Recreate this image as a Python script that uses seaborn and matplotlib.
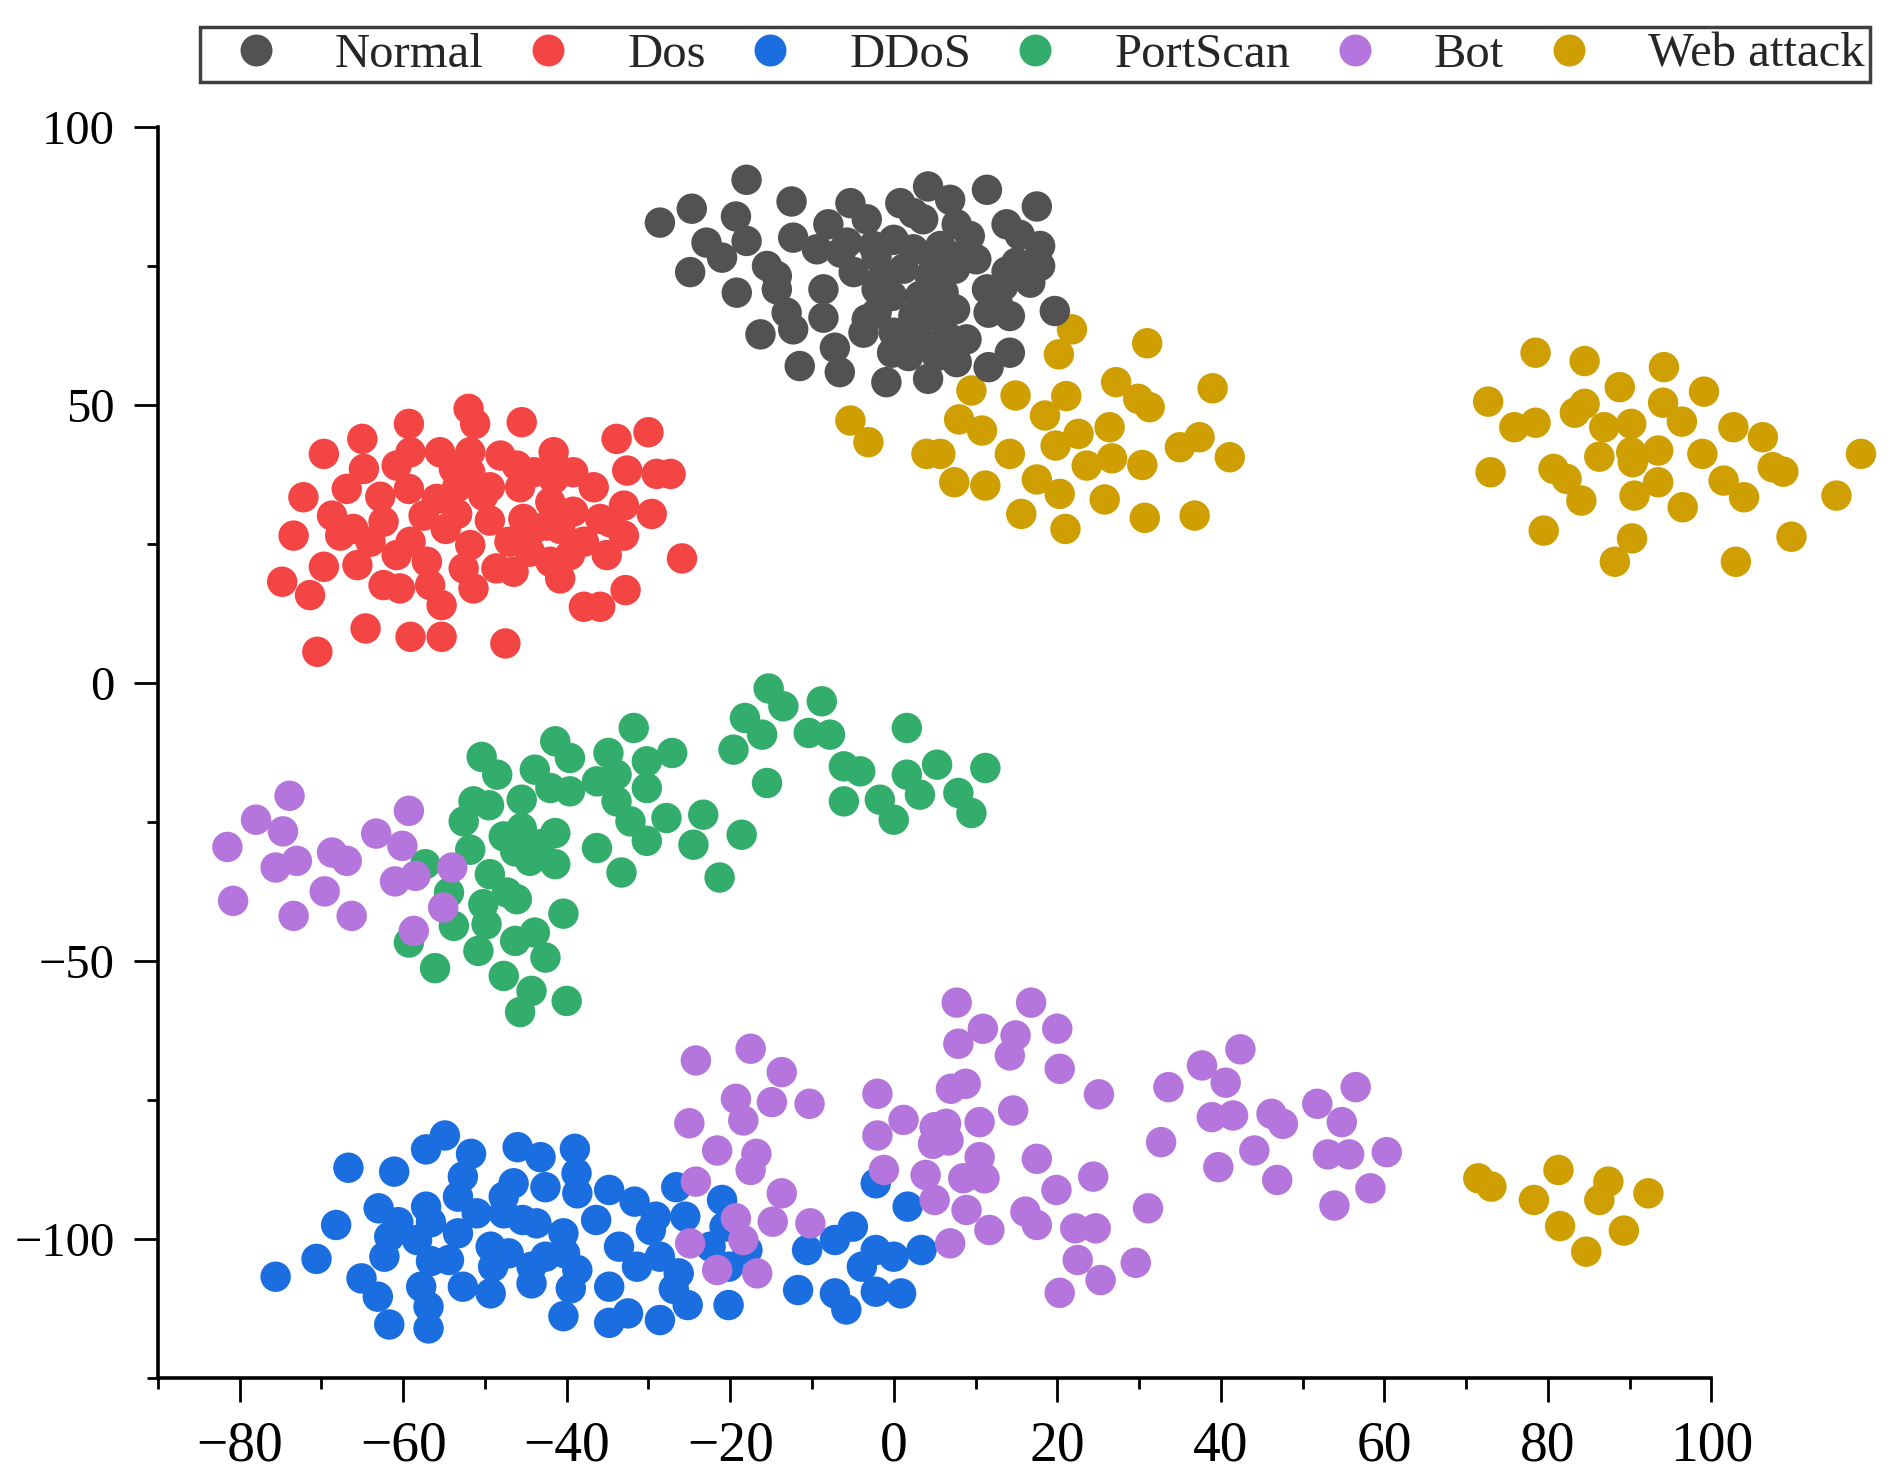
import matplotlib
matplotlib.use("Agg")
import matplotlib.pyplot as plt
from matplotlib.ticker import MultipleLocator
import pandas as pd
import seaborn as sns

categories = ["Normal", "Dos", "DDoS", "PortScan", "Bot", "Web attack"]
colors = ["#525252", "#F44545", "#1A6EDF", "#33AD6B", "#B476DC", "#CF9E00"]

normal_xy = [
    (-18.0, 90.5), (-28.6, 82.8), (-24.7, 85.3), (-19.3, 83.9), (-18.0, 79.5), (-22.9, 79.2), (-21.0, 76.5), (-24.9, 73.9),
    (-19.2, 70.2), (-12.5, 86.6), (-12.3, 80.1), (-15.5, 75.0), (-14.3, 73.2), (-14.3, 70.8), (-13.1, 66.6), (-12.3, 63.6),
    (-16.3, 62.7), (-11.5, 57.0), (-8.6, 70.8), (-8.6, 65.7), (-7.2, 60.3), (-6.6, 55.9), (-8.0, 82.5), (-5.3, 86.3),
    (-9.4, 78.0), (-5.7, 79.2), (-3.3, 83.4), (-4.9, 73.9), (-2.1, 76.8), (-3.3, 65.4), (-2.1, 70.8), (0.8, 86.3),
    (0.0, 79.7), (1.2, 74.5), (-0.2, 69.6), (0.0, 63.0), (-0.2, 59.4), (-0.9, 54.1), (4.2, 89.3), (6.9, 86.9),
    (3.6, 83.4), (2.4, 78.0), (5.7, 78.6), (7.7, 82.5), (9.3, 80.4), (4.4, 73.2), (7.5, 74.5), (3.2, 69.6),
    (6.1, 70.2), (2.4, 66.0), (5.3, 66.0), (7.5, 67.2), (3.2, 61.8), (6.5, 62.4), (8.9, 61.8), (7.7, 57.7),
    (4.2, 54.7), (10.1, 76.2), (11.4, 70.8), (11.6, 66.6), (11.4, 88.7), (13.8, 82.5), (15.4, 80.6), (17.5, 85.7),
    (17.9, 78.6), (17.9, 75.0), (15.0, 75.6), (16.7, 72.0), (13.4, 71.4), (14.2, 66.0), (12.7, 68.4), (19.7, 66.9),
    (14.2, 59.4), (11.6, 56.8), (-2.1, 66.6), (-3.7, 63.0), (1.8, 58.8), (5.3, 58.8), (2.4, 84.5), (-2.5, 78.6),
    (-6.5, 77.4), (4.8, 76.2), (8.5, 77.0), (13.8, 74.0), (-1.3, 73.2),
]

dos_xy = [
    (-70.5, 5.6), (-64.6, 9.8), (-59.1, 8.3), (-55.3, 8.3), (-47.5, 7.1), (-74.8, 18.2), (-71.4, 15.8), (-69.7, 20.9),
    (-73.4, 26.5), (-72.2, 33.4), (-69.7, 41.2), (-66.9, 34.9), (-68.7, 30.1), (-67.7, 26.5), (-65.0, 43.9), (-64.8, 38.5),
    (-65.6, 21.2), (-62.8, 33.5), (-62.4, 29.0), (-64.0, 25.4), (-62.4, 17.6), (-60.4, 17.0), (-60.8, 39.1), (-59.3, 46.6),
    (-59.1, 41.5), (-59.3, 34.9), (-59.1, 25.4), (-57.1, 21.8), (-55.5, 41.5), (-55.9, 33.1), (-54.8, 27.7), (-55.3, 14.0),
    (-56.7, 17.6), (-53.4, 35.2), (-53.4, 30.4), (-52.0, 49.3), (-51.2, 46.6), (-51.8, 41.5), (-51.8, 37.9), (-51.8, 24.8),
    (-51.4, 17.0), (-49.4, 29.2), (-48.1, 40.9), (-48.6, 20.6), (-46.5, 20.0), (-45.5, 46.9), (-46.1, 39.1), (-45.7, 35.2),
    (-45.3, 29.5), (-44.5, 23.6), (-44.0, 37.9), (-41.6, 41.5), (-42.0, 32.5), (-40.8, 18.8), (-39.2, 37.9), (-40.8, 27.7),
    (-37.9, 25.4), (-36.7, 35.2), (-35.9, 29.5), (-35.1, 23.0), (-37.9, 13.7), (-35.9, 13.7), (-33.0, 31.9), (-33.0, 26.5),
    (-33.9, 43.9), (-32.6, 38.2), (-32.8, 16.7), (-30.0, 45.1), (-29.0, 37.6), (-27.3, 37.6), (-29.6, 30.4), (-25.9, 22.4),
    (-42.0, 21.8), (-39.6, 23.0), (-47.0, 25.4), (-50.2, 33.7), (-57.5, 30.1), (-60.8, 23.0), (-66.1, 27.7), (-42.4, 28.3),
    (-34.7, 28.9), (-39.2, 30.8), (-44.0, 27.7), (-52.6, 20.6), (-49.4, 35.2), (-53.8, 38.5), (-41.6, 36.7),
]

ddos_xy = [
    (-75.6, -106.8), (-70.6, -103.6), (-68.2, -97.5), (-66.7, -87.2), (-63.0, -94.5), (-61.1, -87.9), (-65.1, -107.1),
    (-63.1, -110.4), (-61.7, -115.4), (-61.7, -99.6), (-62.3, -103.2), (-57.2, -83.9), (-54.9, -81.4), (-57.2, -94.2),
    (-58.3, -100.2), (-57.8, -108.6), (-56.9, -116.1), (-56.9, -112.2), (-54.4, -103.8), (-53.3, -99.0), (-53.3, -92.4),
    (-51.7, -84.7), (-52.7, -88.8), (-51.0, -95.4), (-52.7, -108.6), (-49.3, -109.8), (-49.3, -101.4), (-47.7, -92.4),
    (-46.5, -90.0), (-47.1, -102.6), (-46.0, -83.5), (-43.2, -85.3), (-42.6, -90.7), (-43.7, -97.2), (-44.3, -108.0),
    (-42.6, -103.2), (-39.0, -83.8), (-38.8, -88.2), (-38.7, -91.8), (-40.4, -99.0), (-40.2, -102.6), (-39.5, -108.9),
    (-40.4, -113.9), (-36.4, -96.6), (-34.8, -91.2), (-34.8, -108.6), (-34.8, -115.1), (-33.6, -101.4), (-31.7, -93.3),
    (-32.5, -113.4), (-31.4, -105.0), (-29.1, -96.0), (-28.6, -114.6), (-28.6, -103.2), (-26.6, -90.7), (-25.5, -96.0),
    (-25.2, -111.9), (-26.3, -106.2), (-21.0, -93.0), (-20.7, -97.8), (-17.9, -102.0), (-20.2, -105.0), (-20.2, -111.9),
    (-2.2, -90.0), (1.7, -94.2), (-5.0, -97.8), (-7.2, -100.2), (-10.6, -102.0), (-2.2, -102.0), (0.0, -103.2),
    (3.4, -102.0), (-3.9, -105.0), (-11.7, -109.2), (-7.2, -109.8), (-2.2, -109.5), (0.9, -109.8), (-5.8, -112.7),
    (-49.0, -105.0), (-56.6, -97.0), (-60.6, -97.0), (-45.4, -96.6), (-29.7, -98.4), (-22.4, -101.4), (-38.7, -105.6),
    (-44.3, -105.0), (-26.9, -109.0), (-47.7, -95.4), (-56.6, -104.0),
]

portscan_xy = [
    (-50.4, -13.3), (-48.5, -16.5), (-41.4, -10.5), (-39.6, -13.5), (-43.9, -15.6), (-31.8, -8.1), (-34.9, -12.6),
    (-27.1, -12.6), (-30.2, -14.1), (-42.0, -18.9), (-39.6, -19.5), (-36.3, -17.7), (-33.9, -16.5), (-45.5, -21.0),
    (-51.4, -21.3), (-49.5, -22.0), (-52.6, -24.9), (-33.9, -21.3), (-30.2, -18.9), (-27.8, -24.3), (-32.2, -24.9),
    (-30.2, -28.4), (-23.3, -23.7), (-24.5, -29.1), (-36.3, -29.7), (-33.3, -34.1), (-47.7, -27.6), (-45.5, -26.1),
    (-41.4, -27.0), (-44.5, -32.0), (-41.4, -32.6), (-46.3, -30.3), (-51.8, -30.0), (-57.3, -32.6), (-54.4, -37.7),
    (-49.4, -34.4), (-46.1, -38.9), (-50.2, -39.8), (-40.4, -41.5), (-53.8, -43.7), (-49.8, -43.4), (-43.9, -44.9),
    (-46.3, -46.4), (-50.8, -48.2), (-59.3, -46.7), (-42.6, -49.4), (-56.1, -51.3), (-47.7, -52.7), (-44.3, -55.4),
    (-45.7, -59.2), (-40.0, -57.2), (-21.3, -35.0), (-47.3, -37.7), (-43.2, -29.0),
    (-15.3, -1.0), (-13.5, -4.2), (-18.2, -6.3), (-16.1, -9.3), (-19.6, -12.0), (-15.5, -18.0), (-8.8, -3.3),
    (-10.4, -9.0), (-7.8, -9.3), (-6.1, -15.0), (-4.1, -15.9), (-6.1, -21.3), (-1.7, -21.0), (0.0, -24.6),
    (1.6, -8.1), (1.6, -16.5), (3.2, -20.1), (5.3, -14.7), (7.9, -19.8), (9.5, -23.4), (11.2, -15.3), (-18.6, -27.3),
]

bot_xy = [
    (-81.5, -29.5), (-78.0, -24.6), (-73.9, -20.3), (-74.7, -26.7), (-75.6, -33.2), (-73.0, -32.0), (-80.8, -39.2),
    (-73.4, -41.9), (-69.6, -37.5), (-68.7, -30.5), (-66.9, -32.0), (-66.3, -41.9), (-63.3, -27.1), (-59.3, -23.0),
    (-60.1, -29.3), (-61.0, -35.7), (-58.5, -34.7), (-54.0, -33.2), (-55.1, -40.4), (-58.7, -44.6),
    (-24.2, -67.9), (-17.5, -65.8), (-13.7, -70.0), (-19.3, -74.8), (-18.4, -78.7), (-14.9, -75.4), (-10.3, -75.7),
    (-25.0, -79.2), (-21.6, -84.1), (-16.8, -84.7), (-17.5, -87.6), (-24.2, -89.7), (-13.7, -91.8), (-19.3, -96.3),
    (-14.8, -96.9), (-10.2, -97.2), (-24.9, -100.8), (-18.4, -100.2), (-21.6, -105.6), (-16.7, -106.2),
    (-2.0, -73.9), (-2.0, -81.4), (1.2, -78.6), (-1.2, -87.6), (5.0, -79.9), (4.8, -82.9), (6.7, -82.3), (7.0, -73.0),
    (8.8, -72.1), (7.7, -57.5), (10.9, -62.2), (7.9, -64.9), (14.9, -63.4), (14.2, -67.0), (16.8, -57.5), (20.0, -62.2),
    (20.3, -69.4), (25.1, -74.0), (14.6, -76.9), (10.5, -79.0), (3.9, -88.5), (8.5, -89.1), (11.1, -89.1), (10.5, -85.3),
    (5.0, -93.0), (8.9, -94.8), (6.9, -100.8), (11.7, -98.4), (16.1, -95.1), (17.5, -97.5), (17.5, -85.6), (19.9, -91.2),
    (24.4, -88.8), (22.2, -98.1), (24.7, -98.1), (22.5, -103.8), (25.3, -107.4), (20.3, -109.7), (29.6, -104.3),
    (31.1, -94.5), (32.7, -82.6), (33.6, -72.7), (37.7, -68.8), (42.4, -65.9), (40.6, -71.9), (38.9, -78.1),
    (41.5, -77.8), (44.1, -84.1), (39.7, -87.1), (46.2, -77.5), (47.6, -79.3), (46.9, -89.4), (51.8, -75.7),
    (56.5, -72.7), (54.8, -79.0), (53.1, -84.8), (55.7, -84.8), (60.3, -84.4), (58.3, -90.9), (53.9, -94.0), (6.4, -79.3),
]

web_xy = [
    (21.8, 63.6), (20.2, 59.1), (31.0, 61.1), (-5.3, 47.2), (-3.1, 43.3), (9.5, 52.6), (14.9, 51.7), (21.1, 51.6),
    (27.2, 54.1), (29.9, 51.1), (31.3, 49.6), (39.0, 53.0), (8.0, 47.4), (10.8, 45.4), (18.5, 48.1), (22.6, 44.8),
    (26.4, 46.0), (35.0, 42.4), (37.4, 44.2), (41.1, 40.6), (4.0, 41.2), (5.7, 41.2), (14.2, 41.2), (19.8, 42.7),
    (23.6, 39.1), (26.7, 40.4), (30.4, 39.2), (7.4, 36.1), (11.2, 35.5), (17.5, 36.6), (20.3, 34.0), (25.8, 33.0),
    (15.6, 30.4), (21.0, 27.7), (30.7, 29.7), (36.8, 30.1),
    (78.5, 59.4), (84.5, 57.9), (94.2, 56.8), (72.7, 50.6), (88.8, 53.2), (99.1, 52.4), (75.9, 46.0), (78.5, 46.8),
    (83.3, 48.6), (84.5, 50.2), (94.1, 50.4), (86.9, 46.0), (90.2, 46.6), (96.4, 47.0), (102.7, 46.0), (106.3, 44.2),
    (73.0, 37.9), (80.7, 38.5), (82.3, 36.7), (86.3, 40.7), (90.2, 41.5), (90.4, 39.7), (93.5, 41.8), (98.9, 41.2),
    (107.5, 38.8), (108.8, 38.0), (118.3, 41.2), (84.1, 32.8), (90.6, 33.7), (93.5, 36.1), (96.5, 31.6), (101.5, 36.4),
    (104.0, 33.4), (115.3, 33.7), (79.5, 27.4), (90.3, 26.0), (88.2, 21.8), (103.0, 21.8), (109.8, 26.3),
    (71.5, -89.1), (73.1, -90.6), (81.3, -87.6), (78.3, -93.0), (87.4, -89.7), (86.3, -93.0), (92.3, -91.8),
    (81.5, -97.7), (89.3, -98.5), (84.7, -102.3),
]

x_ticks = [-80, -60, -40, -20, 0, 20, 40, 60, 80, 100]
y_ticks = [-100, -50, 0, 50, 100]

series = {
    "Normal": normal_xy, "Dos": dos_xy, "DDoS": ddos_xy,
    "PortScan": portscan_xy, "Bot": bot_xy, "Web attack": web_xy,
}
draw_order = ["Web attack", "Dos", "DDoS", "PortScan", "Normal", "Bot"]
rows = []
for name in draw_order:
    for px, py in series[name]:
        rows.append((px, py, name))
df = pd.DataFrame(rows, columns=["x", "y", "label"])

sns.set_style("ticks")
plt.rcParams["font.family"] = ["Liberation Serif", "DejaVu Serif"]
plt.rcParams["axes.unicode_minus"] = True

fig = plt.figure(figsize=(18.91, 14.80), dpi=100)
ax = fig.add_axes([0.0835, 0.0690, 0.9050 - 0.0835, 0.9142 - 0.0690])

sns.scatterplot(
    data=df, x="x", y="y", hue="label", hue_order=categories,
    palette=dict(zip(categories, colors)), s=480, linewidth=0,
    edgecolor="none", ax=ax, clip_on=False, legend=True,
)

ax.set_xlim(-90, 100)
ax.set_ylim(-125, 100)
ax.set_xticks(x_ticks)
ax.set_yticks(y_ticks)
ax.xaxis.set_minor_locator(MultipleLocator(10))
ax.yaxis.set_minor_locator(MultipleLocator(25))
ax.set_xlabel("")
ax.set_ylabel("")

for side in ("top", "right"):
    ax.spines[side].set_visible(False)
for side in ("left", "bottom"):
    ax.spines[side].set_linewidth(2.6)
    ax.spines[side].set_color("black")

ax.tick_params(which="major", direction="out", length=17, width=2.0, color="black", pad=14)
ax.tick_params(which="minor", direction="out", length=8, width=2.0, color="black")
ax.tick_params(axis="x", which="major", labelsize=40, labelcolor="black")
ax.tick_params(axis="y", which="major", labelsize=35, labelcolor="black")

old = ax.get_legend()
handles = old.legend_handles
labels = [t.get_text() for t in old.get_texts()]
old.remove()
for h in handles:
    if hasattr(h, "set_markersize"):
        h.set_markersize(23)
    if hasattr(h, "set_markeredgewidth"):
        h.set_markeredgewidth(0)

leg = fig.legend(
    handles, labels, loc="center",
    bbox_to_anchor=(0.1058, 0.9412, 0.9889 - 0.1058, 0.9851 - 0.9412),
    mode="expand", ncol=6, frameon=True, fancybox=False,
    borderpad=0.12, handlelength=2.05, handletextpad=0.6,
    borderaxespad=0.0, fontsize=35, framealpha=1.0,
)
leg.get_frame().set_edgecolor("#404040")
leg.get_frame().set_linewidth(2.5)

fig.savefig("out.png", dpi=100)
